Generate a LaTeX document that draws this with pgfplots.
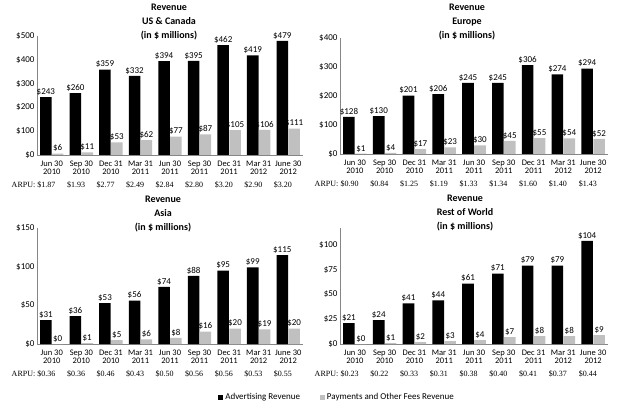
\documentclass[border=0pt]{standalone}
\usepackage{fontspec}
\setmainfont{Carlito}
\newfontfamily\arpufont{Liberation Serif}
\usepackage{pgfplots}
\pgfplotsset{compat=1.18}

\definecolor{paygray}{HTML}{C0C0C0}
\definecolor{axisgray}{HTML}{868686}

\pgfplotsset{
  panel/.style={
    scale only axis,
    anchor=south west,
    ybar, bar width=0.39,
    xmin=-0.5, xmax=8.5, ymin=0,
    axis x line*=bottom, axis y line*=left,
    axis line style={-, draw=axisgray, line width=0.8pt},
    major tick length=0pt,
    xtick={0,...,8},
    xticklabels={{Jun 30\\2010},{Sep 30\\2010},{Dec 31\\2010},{Mar 31\\2011},{Jun 30\\2011},{Sep 30\\2011},{Dec 31\\2011},{Mar 31\\2012},{June 30\\2012}},
    xticklabel style={font=\fontsize{8.5}{8}\selectfont, align=center, yshift=-2.5pt},
    yticklabel={\$\pgfmathprintnumber{\tick}},
    yticklabel style={font=\fontsize{9}{9}\selectfont, xshift=1pt},
    /pgf/number format/assume math mode=true,
    clip=false,
    nodes near coords={\$\pgfmathprintnumber{\pgfplotspointmeta}},
    nodes near coords style={font=\fontsize{9}{9}\selectfont, black, inner sep=1.5pt},
    legend image code/.code={\fill[##1] (0pt,-2.5pt) rectangle (5pt,2.5pt);},
  },
  adv/.style={fill=black, draw=none, bar shift=-0.2},
  pay/.style={fill=paygray, draw=none, bar shift=0.2},
}
\tikzset{
  arpu/.style={font=\arpufont\fontsize{8}{8}\selectfont, inner sep=0pt},
  ptitle/.style={align=center, font=\bfseries\fontsize{10}{14}\selectfont},
}

\newcommand\arpurow[9]{%
  \node[arpu, anchor=east, xshift=-1.5pt, yshift=-30pt] at (axis cs:-0.5,0) {ARPU:};
  \node[arpu, yshift=-30pt] at (axis cs:-0.18,0) {\$#1};
  \node[arpu, yshift=-30pt] at (axis cs:0.82,0) {\$#2};
  \node[arpu, yshift=-30pt] at (axis cs:1.82,0) {\$#3};
  \node[arpu, yshift=-30pt] at (axis cs:2.82,0) {\$#4};
  \node[arpu, yshift=-30pt] at (axis cs:3.82,0) {\$#5};
  \node[arpu, yshift=-30pt] at (axis cs:4.82,0) {\$#6};
  \node[arpu, yshift=-30pt] at (axis cs:5.82,0) {\$#7};
  \node[arpu, yshift=-30pt] at (axis cs:6.82,0) {\$#8};
  \node[arpu, yshift=-30pt] at (axis cs:7.82,0) {\$#9};
}

\begin{document}
\begin{tikzpicture}
\path[use as bounding box] (0,0) rectangle (620pt,404pt);

% US & Canada
\begin{axis}[panel, at={(37pt,249pt)}, width=266pt, height=119pt,
  ymax=500, ytick={0,100,...,500}]
  \addplot[adv] coordinates {(0,243) (1,260) (2,359) (3,332) (4,394) (5,395) (6,462) (7,419) (8,479)};
  \addplot[pay] coordinates {(0,6) (1,11) (2,53) (3,62) (4,77) (5,87) (6,105) (7,106) (8,111)};
  \arpurow{1.87}{1.93}{2.77}{2.49}{2.84}{2.80}{3.20}{2.90}{3.20}
\end{axis}
\node[ptitle] at (169pt,381.5pt) {Revenue\\US \& Canada\\(in \$ millions)};

% Europe
\begin{axis}[panel, at={(340pt,250pt)}, width=268pt, height=116.3pt,
  ymax=400, ytick={0,100,...,400}]
  \addplot[adv] coordinates {(0,128) (1,130) (2,201) (3,206) (4,245) (5,245) (6,306) (7,274) (8,294)};
  \addplot[pay] coordinates {(0,1) (1,4) (2,17) (3,23) (4,30) (5,45) (6,55) (7,54) (8,52)};
  \arpurow{0.90}{0.84}{1.25}{1.19}{1.33}{1.34}{1.60}{1.40}{1.43}
\end{axis}
\node[ptitle] at (467pt,381.5pt) {Revenue\\Europe\\(in \$ millions)};

% Asia
\begin{axis}[panel, at={(37pt,60pt)}, width=266pt, height=116pt,
  ymax=150, ytick={0,50,...,150},
  legend columns=2,
  legend style={at={(1.128,-0.457)}, anchor=center, draw=none, fill=none,
    font=\fontsize{9}{9}\selectfont, /tikz/every even column/.append style={column sep=18pt}}]
  \addplot[adv] coordinates {(0,31) (1,36) (2,53) (3,56) (4,74) (5,88) (6,95) (7,99) (8,115)};
  \addlegendentry{Advertising Revenue}
  \addplot[pay] coordinates {(0,0) (1,1) (2,5) (3,6) (4,8) (5,16) (6,20) (7,19) (8,20)};
  \addlegendentry{Payments and Other Fees Revenue}
  \arpurow{0.36}{0.36}{0.46}{0.43}{0.50}{0.56}{0.56}{0.53}{0.55}
\end{axis}
\node[ptitle] at (163pt,190pt) {Revenue\\Asia\\(in \$ millions)};

% Rest of World
\begin{axis}[panel, at={(340pt,60pt)}, width=268pt, height=116pt,
  ymax=117, ytick={0,25,...,100}]
  \addplot[adv] coordinates {(0,21) (1,24) (2,41) (3,44) (4,61) (5,71) (6,79) (7,79) (8,104)};
  \addplot[pay] coordinates {(0,0) (1,1) (2,2) (3,3) (4,4) (5,7) (6,8) (7,8) (8,9)};
  \arpurow{0.23}{0.22}{0.33}{0.31}{0.38}{0.40}{0.41}{0.37}{0.44}
\end{axis}
\node[ptitle] at (465pt,190.5pt) {Revenue\\Rest of World\\(in \$ millions)};
\end{tikzpicture}
\end{document}
